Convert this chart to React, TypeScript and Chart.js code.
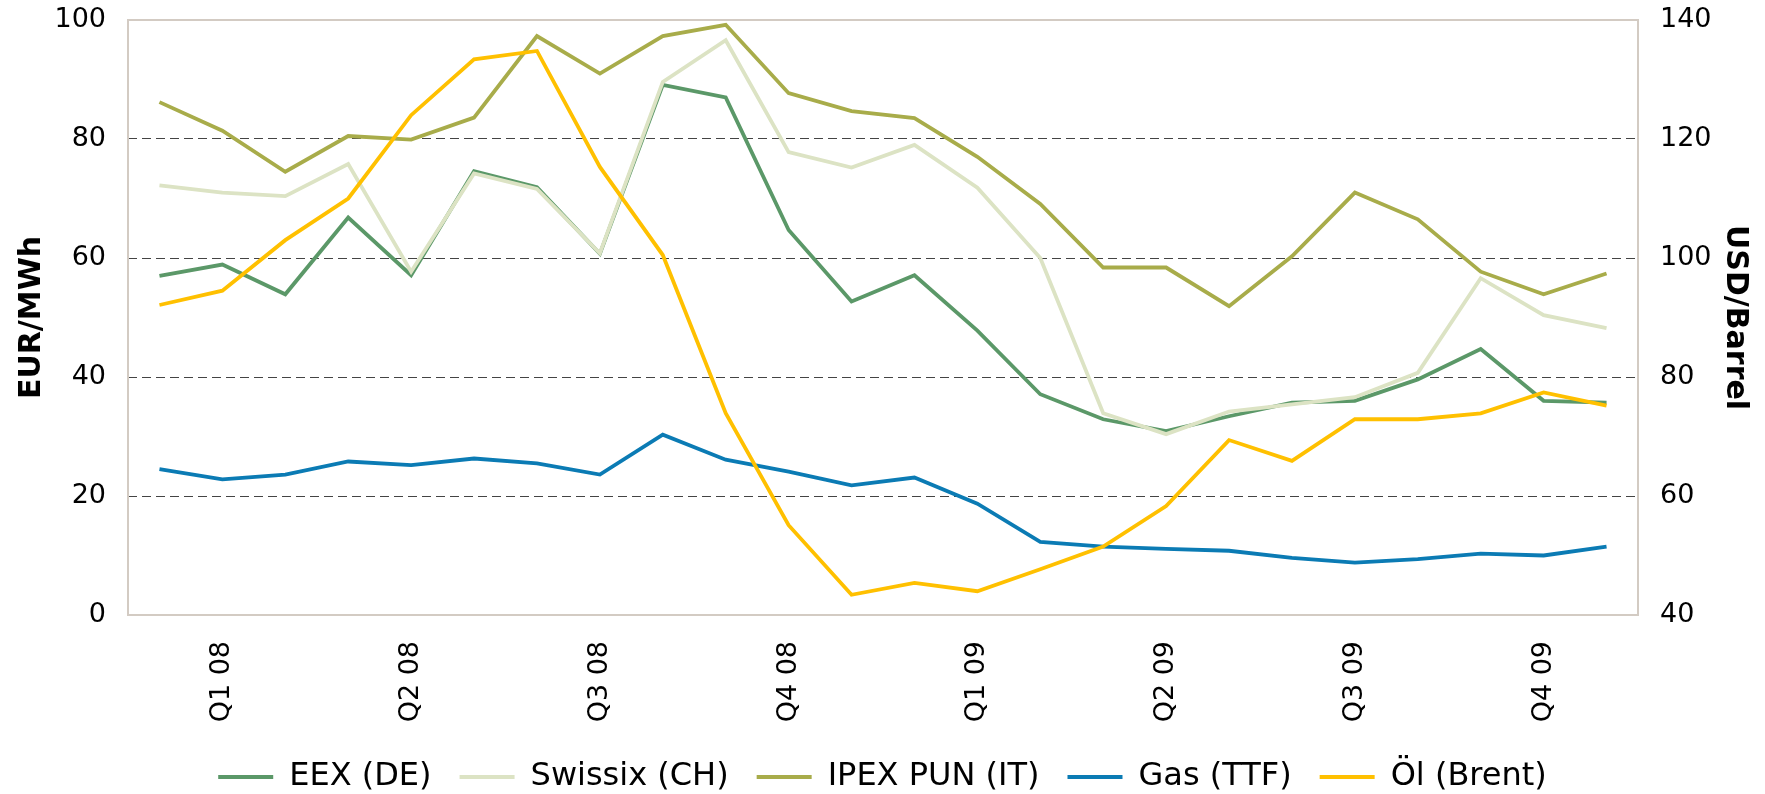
import React, { useEffect, useRef } from "react";
import { Chart, registerables } from "chart.js";

Chart.register(...registerables);

const labels = ["", "Q1 08", "", "", "Q2 08", "", "", "Q3 08", "", "", "Q4 08", "", "", "Q1 09", "", "", "Q2 09", "", "", "Q3 09", "", "", "Q4 09", ""];

const eex = [57.0, 58.9, 53.9, 66.8, 57.1, 74.6, 71.9, 60.7, 89.1, 87.0, 64.7, 52.7, 57.1, 47.8, 37.1, 32.9, 30.9, 33.4, 35.7, 36.0, 39.6, 44.7, 36.0, 35.7];
const swissix = [72.2, 71.0, 70.4, 75.8, 57.7, 74.2, 71.6, 60.8, 89.6, 96.6, 77.8, 75.2, 79.0, 71.8, 60.0, 33.9, 30.4, 34.2, 35.4, 36.6, 40.7, 56.6, 50.4, 48.2];
const ipex = [86.2, 81.4, 74.5, 80.5, 79.9, 83.6, 97.3, 91.0, 97.3, 99.2, 87.7, 84.7, 83.5, 77.0, 69.1, 58.4, 58.4, 51.9, 60.3, 71.0, 66.5, 57.7, 53.9, 57.4];
const gas = [24.5, 22.8, 23.6, 25.8, 25.2, 26.3, 25.5, 23.6, 30.3, 26.1, 24.1, 21.8, 23.1, 18.7, 12.3, 11.5, 11.1, 10.8, 9.6, 8.8, 9.4, 10.3, 10.0, 11.5];
const brent = [92.1, 94.5, 103.0, 110.0, 124.0, 133.4, 134.8, 115.3, 100.5, 73.9, 55.1, 43.4, 45.4, 44.0, 47.7, 51.5, 58.3, 69.4, 65.9, 72.9, 72.9, 73.9, 77.4, 75.2];

const seriesNames = ["EEX (DE)", "Swissix (CH)", "IPEX PUN (IT)", "Gas (TTF)", "Öl (Brent)"];
const seriesColors = ["#5B9868", "#DCE3C4", "#A8AC4A", "#0B7BB4", "#FFC000"];

const FONT = "'DejaVu Sans', Verdana, sans-serif";
const FRAME = "#D3CBC3";

const framePlugin = {
  id: "frame",
  beforeDatasetsDraw(chart: any) {
    const { ctx, chartArea } = chart;
    const { left, top, right, bottom } = chartArea;
    ctx.save();
    ctx.strokeStyle = FRAME;
    ctx.lineWidth = 2;
    ctx.strokeRect(left, top, right - left, bottom - top);
    ctx.restore();
  },
};

export default function App() {
  const ref = useRef<HTMLCanvasElement>(null);

  useEffect(() => {
    document.body.style.margin = "0";
    document.body.style.overflow = "hidden";
    const values = [eex, swissix, ipex, gas, brent];
    const axes = ["y", "y", "y", "y", "y2"];
    const orders = [5, 4, 3, 2, 1];
    const chart = new Chart(ref.current as HTMLCanvasElement, {
      type: "line",
      data: {
        labels,
        datasets: values.map((v, i) => ({
          label: seriesNames[i],
          data: v,
          borderColor: seriesColors[i],
          backgroundColor: seriesColors[i],
          borderWidth: 3.8,
          pointRadius: 0,
          tension: 0,
          yAxisID: axes[i],
          order: orders[i],
        })),
      },
      options: {
        animation: false,
        responsive: false,
        layout: { padding: { top: 20, left: 0, right: 0, bottom: 0 } },
        plugins: {
          tooltip: { enabled: false },
          legend: {
            position: "bottom",
            labels: {
              usePointStyle: true,
              pointStyle: "line",
              pointStyleWidth: 55,
              padding: 28,
              color: "#000",
              font: { family: FONT, size: 32 },
              sort: (a: any, b: any) => a.datasetIndex - b.datasetIndex,
            },
          },
        },
        scales: {
          x: {
            type: "category",
            offset: true,
            grid: { display: false, drawTicks: false },
            border: { display: false },
            ticks: {
              autoSkip: false,
              maxRotation: 90,
              minRotation: 90,
              padding: 26,
              color: "#000",
              font: { family: FONT, size: 27 },
            },
            afterFit: (s: any) => {
              s.height = 118;
            },
          },
          y: {
            position: "left",
            min: 0,
            max: 100,
            ticks: { stepSize: 20, padding: 22, color: "#000", font: { family: FONT, size: 27 } },
            grid: {
              drawTicks: false,
              lineWidth: 1,
              color: (c: any) => (c.tick && (c.tick.value === 0 || c.tick.value === 100) ? "rgba(0,0,0,0)" : "#444444"),
            },
            border: { display: false, dash: [9, 5] },
            title: {
              display: true,
              text: "EUR/MWh",
              color: "#000",
              font: { family: FONT, size: 30, weight: "bold" },
              padding: { top: 14, bottom: 0 },
            },
            afterFit: (s: any) => {
              s.width = 128;
              s.paddingTop = 16;
              s.paddingBottom = 16;
            },
          },
          y2: {
            position: "right",
            min: 40,
            max: 140,
            ticks: { stepSize: 20, padding: 22, color: "#000", font: { family: FONT, size: 27 } },
            grid: { drawOnChartArea: false, drawTicks: false },
            border: { display: false },
            title: {
              display: true,
              text: "USD/Barrel",
              color: "#000",
              font: { family: FONT, size: 30, weight: "bold" },
              padding: { top: 12, bottom: 0 },
            },
            afterFit: (s: any) => {
              s.width = 127;
              s.paddingTop = 16;
              s.paddingBottom = 16;
            },
          },
        },
      } as any,
      plugins: [framePlugin],
    });
    return () => chart.destroy();
  }, []);

  return (
    <div style={{ width: 1765, height: 794, overflow: "hidden" }}>
      <canvas ref={ref} width={1765} height={803} style={{ display: "block" }} />
    </div>
  );
}
